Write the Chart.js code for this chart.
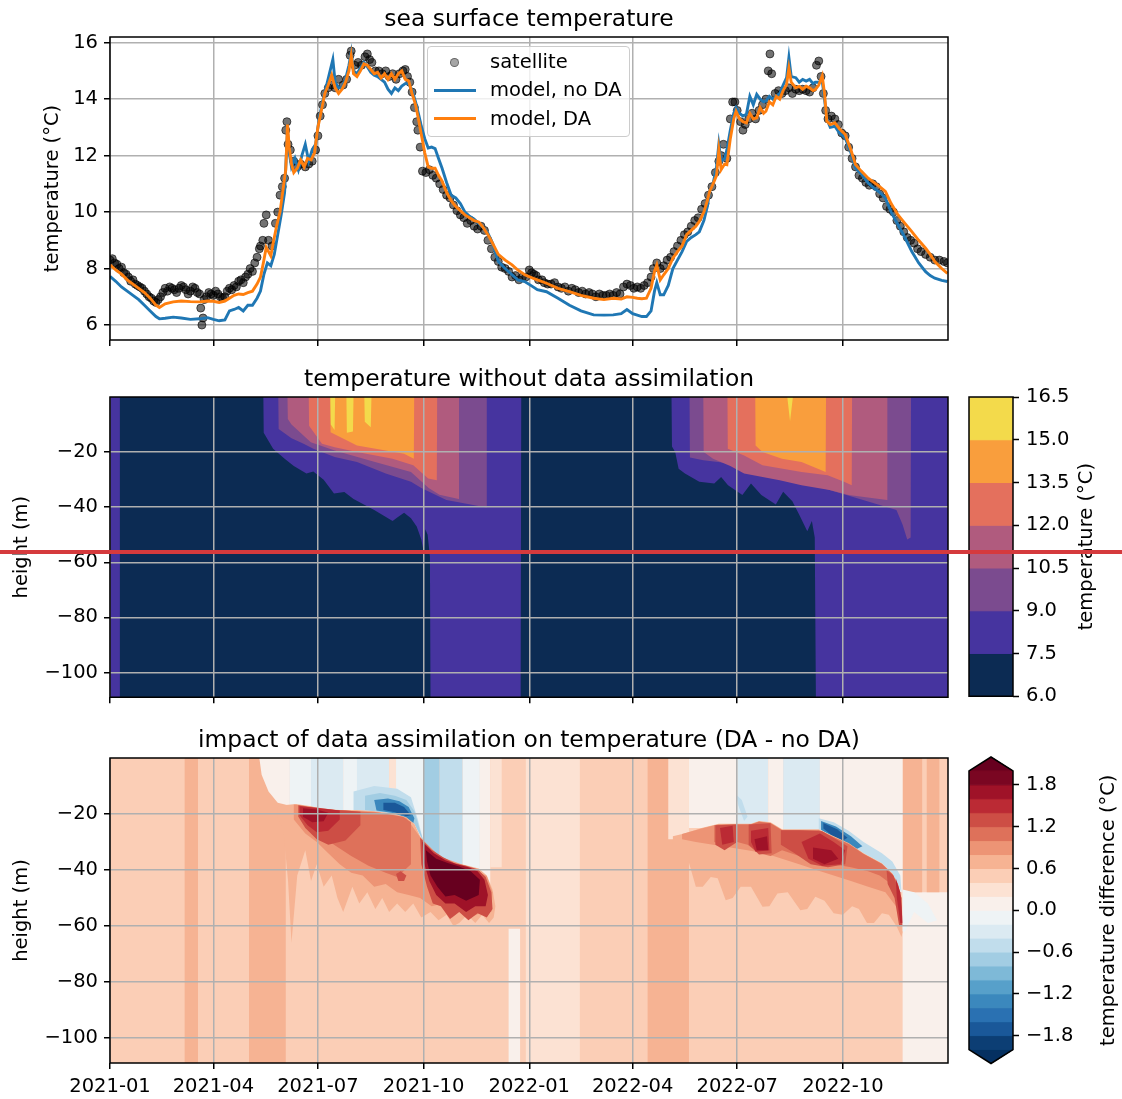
<!DOCTYPE html>
<html>
<head>
<meta charset="utf-8">
<script src="https://cdn.jsdelivr.net/npm/chart.js@4.4.1/dist/chart.umd.min.js"></script>
<style>
  body { margin: 0; background: #fff; width: 1122px; height: 1099px; position: relative; overflow: hidden; font-family: 'DejaVu Sans'; }
  canvas { position: absolute; }
  #legend { position: absolute; left: 427px; top: 46px; width: 203px; height: 91px; box-sizing: border-box;
    border: 1px solid #cccccc; border-radius: 4px; background: rgba(255,255,255,0.8); padding-top: 1px;
    font: 19.5px 'DejaVu Sans'; color: #000; }
  #legend .row { position: relative; height: 28.3px; line-height: 28.3px; }
  #legend .txt { position: absolute; left: 62px; top: 0; }
  #legend .line { position: absolute; left: 6px; width: 42px; height: 3px; top: 12.7px; }
  #legend .dot { position: absolute; left: 22px; top: 9.7px; width: 7px; height: 7px; border-radius: 50%; }
  #marker { position: absolute; left: 0; top: 550px; width: 1122px; height: 4px; background: #d53a3d; }
</style>
</head>
<body>
<canvas id="sst" width="1122" height="360" style="left:0;top:0"></canvas>
<canvas id="temp" width="1122" height="355" style="left:0;top:360px"></canvas>
<canvas id="tempBar" width="182" height="355" style="left:940px;top:360px"></canvas>
<canvas id="diff" width="1122" height="378" style="left:0;top:721px"></canvas>
<canvas id="diffBar" width="182" height="378" style="left:940px;top:721px"></canvas>
<div id="legend"></div>
<div id="marker"></div>
<script>
// -- DATA ---------------------------------------------------------------//
// time axis: days since 2021-01-01
const tickDays = [0, 90, 181, 273, 365, 455, 546, 638];
const tickLabels = ['2021-01', '2021-04', '2021-07', '2021-10', '2022-01', '2022-04', '2022-07', '2022-10'];
const dayMax = 729.5;

// sea surface temperature (°C) as [day, value]
const satellite = [
  [0,8.3],[2,8.35],[4,8.2],[6,8.15],[8,8.0],[10,8.05],[12,7.85],[14,7.8],[16,7.7],[18,7.55],[20,7.6],[22,7.45],[24,7.4],[26,7.35],
  [28,7.3],[30,7.2],[32,7.1],[34,7.0],[36,6.95],[38,6.85],[40,6.8],[42,6.9],[44,7.0],[46,7.15],[48,7.3],[50,7.2],[52,7.35],[54,7.3],
  [56,7.25],[58,7.15],[60,7.3],[62,7.4],[64,7.35],[66,7.25],[68,7.1],[70,7.2],[72,7.35],[74,7.3],[76,7.15],[78,7.1],[79,6.6],[80,6.0],
  [81,6.25],[82,6.9],[84,7.0],[86,7.15],[88,7.1],[90,7.05],[92,7.2],[94,7.1],[96,7.0],[98,6.95],[100,7.0],[102,7.2],[104,7.3],[106,7.25],
  [108,7.4],[110,7.35],[112,7.55],[114,7.6],[116,7.5],[118,7.7],[120,7.8],[122,8.0],[124,7.9],[126,8.2],[128,8.4],[130,8.7],[131,8.8],
  [133,9.0],[134,9.6],[136,9.9],[138,9.0],[141,8.8],[144,9.6],[146,10.0],[148,10.6],[150,10.9],[152,11.2],[153,12.9],[154,13.2],[155,12.4],
  [157,12.2],[160,11.8],[163,11.6],[166,11.7],[170,11.6],[173,11.7],[176,11.8],[179,12.2],[181,12.7],[183,13.4],[185,13.8],[187,14.2],
  [190,14.4],[193,14.5],[196,14.4],[199,14.7],[203,14.5],[206,14.7],[209,15.55],[210,15.7],[213,15.2],[216,15.3],[219,15.2],[222,15.5],
  [224,15.6],[226,15.4],[228,15.3],[231,15.0],[234,15.0],[237,14.9],[240,15.0],[243,14.8],[246,14.9],[249,14.7],[252,14.9],[255,15.0],
  [257,15.05],[259,14.8],[261,14.6],[263,14.25],[265,13.7],[267,13.2],[268,12.9],[270,12.3],[272,11.45],[275,11.4],[278,11.5],[281,11.3],
  [284,11.2],[287,11.0],[290,10.8],[293,10.6],[296,10.5],[299,10.25],[302,10.05],[305,9.9],[308,9.8],[311,9.6],[314,9.7],[317,9.5],
  [320,9.4],[323,9.5],[326,9.35],[329,9.0],[332,8.7],[335,8.4],[338,8.25],[341,8.05],[344,8.0],[347,7.9],[350,7.7],[353,7.75],[356,7.6],
  [359,7.7],[362,7.7],[365,7.95],[367,7.85],[369,7.8],[371,7.75],[373,7.6],[376,7.6],[378,7.5],[381,7.45],[384,7.45],[387,7.5],[390,7.35],
  [393,7.3],[396,7.35],[399,7.2],[402,7.3],[405,7.25],[408,7.15],[411,7.2],[414,7.1],[417,7.15],[420,7.1],[423,7.0],[426,7.1],[429,7.05],
  [432,7.05],[435,7.1],[438,7.05],[441,7.15],[444,7.1],[447,7.35],[450,7.45],[453,7.4],[456,7.3],[459,7.35],[462,7.3],[465,7.4],[468,7.5],
  [471,7.7],[473,8.0],[476,8.2],[479,8.0],[482,8.1],[485,8.3],[488,8.4],[491,8.6],[494,8.8],[497,9.0],[500,9.2],[503,9.3],[506,9.5],
  [509,9.7],[512,9.8],[515,10.1],[518,10.3],[521,10.6],[524,10.9],[527,11.4],[530,11.8],[532,12.0],[534,12.4],[537,11.9],[540,13.3],
  [542,13.9],[544,13.9],[546,13.6],[549,13.2],[551,12.9],[553,13.1],[556,13.3],[559,13.5],[562,13.3],[565,13.6],[568,13.8],[571,14.0],
  [573,15.0],[574.5,15.6],[576,14.9],[579,14.2],[582,14.3],[585,14.2],[588,14.3],[591,14.4],[594,14.2],[597,14.35],[600,14.3],[603,14.35],
  [606,14.3],[609,14.25],[612,14.4],[615,15.2],[617,15.35],[619,14.8],[621,14.2],[623,13.6],[625,13.3],[628,13.4],[631,13.3],[634,13.1],
  [637,12.8],[640,12.7],[643,12.3],[646,11.9],[649,11.6],[652,11.3],[655,11.2],[658,11.05],[661,10.95],[664,11.0],[667,10.9],[670,10.65],
  [673,10.5],[676,10.2],[679,10.1],[682,10.0],[685,9.7],[688,9.5],[691,9.3],[694,9.1],[697,9.0],[700,8.9],[703,8.7],[706,8.6],[710,8.5],
  [714,8.4],[718,8.3],[722,8.3],[726,8.25],[729,8.2]
];
const modelNoDA = [
  [0,7.72],[5,7.55],[10,7.35],[15,7.2],[20,7.05],[25,6.9],[30,6.7],[35,6.5],[40,6.3],[43,6.22],[48,6.24],[55,6.28],[62,6.25],[70,6.2],
  [78,6.22],[85,6.26],[90,6.2],[95,6.15],[100,6.18],[104,6.5],[108,6.55],[112,6.62],[116,6.5],[120,6.7],[124,6.7],[128,6.95],[131,7.2],
  [134,7.8],[137,8.2],[140,8.1],[143,8.5],[146,9.2],[149,9.9],[152,10.7],[154.5,12.9],[156,12.1],[158,11.6],[161,11.9],[164,11.5],
  [167,12.0],[170,12.4],[173,11.8],[176,12.2],[179,12.4],[182,13.3],[185,13.9],[188,14.4],[191,14.9],[194,15.4],[196,14.6],[199,14.4],
  [202,14.4],[205,14.7],[208,15.2],[210,15.65],[212,15.0],[215,14.9],[218,15.1],[221,15.3],[224,15.15],[227,14.95],[230,14.85],[233,14.8],
  [236,14.7],[239,14.6],[242,14.35],[245,14.2],[248,14.4],[251,14.3],[254,14.46],[257,14.55],[260,14.55],[263,14.3],[266,13.9],[269,13.4],
  [271,13.04],[274,12.6],[277,12.27],[280,12.3],[283,12.25],[286,11.9],[289,11.56],[293,11.05],[297,10.6],[301,10.5],[305,10.3],[309,10.0],
  [313,9.85],[317,9.75],[321,9.6],[325,9.45],[329,9.25],[333,8.9],[338,8.25],[344,8.0],[350,7.78],[355,7.6],[361,7.54],[368,7.36],
  [372,7.25],[380,7.18],[390,6.95],[400,6.7],[410,6.5],[421,6.36],[430,6.35],[438,6.36],[445,6.4],[450,6.55],[455,6.4],[459,6.35],
  [463,6.3],[467,6.3],[471,6.5],[474,7.2],[476,7.5],[479,7.07],[482,7.07],[486,7.4],[490,8.0],[494,8.3],[498,8.6],[502,8.96],[506,9.1],
  [510,9.2],[513,9.3],[517,9.7],[520,10.2],[522,10.73],[525,11.0],[528,11.6],[530,12.4],[532,11.8],[535,11.9],[537,12.2],[540,12.9],
  [543,13.5],[545,13.7],[548,13.5],[551,13.4],[554,13.46],[557,14.1],[560,13.8],[563,14.17],[566,14.0],[569,13.9],[571,13.93],[574,14.1],
  [577,14.0],[580,14.1],[583,14.2],[586,14.5],[589,14.76],[591,15.47],[593,14.8],[597,14.76],[600,14.6],[603,14.7],[606,14.64],[609,14.7],
  [612,14.55],[614,14.6],[617,14.6],[620,14.64],[622,14.0],[624,13.3],[627,13.0],[631,13.04],[635,12.8],[640,12.63],[645,12.1],[649,11.56],
  [654,11.35],[660,11.03],[665,10.85],[670,10.7],[675,10.5],[680,10.0],[686,9.55],[692,9.1],[698,8.6],[704,8.2],[710,7.89],[714,7.75],
  [718,7.66],[724,7.58],[729,7.54]
];
const modelDA = [
  [0,8.13],[5,7.95],[10,7.8],[15,7.6],[20,7.45],[25,7.3],[30,7.15],[35,6.95],[40,6.7],[43,6.62],[48,6.75],[55,6.82],[62,6.85],[70,6.83],
  [78,6.82],[85,6.85],[90,6.84],[95,6.8],[100,6.85],[104,6.95],[108,7.05],[112,7.1],[116,7.08],[120,7.15],[124,7.2],[128,7.45],[131,7.7],
  [134,8.3],[136,8.75],[138,8.6],[140,8.45],[142,8.9],[145,9.5],[148,10.0],[151,10.9],[153,11.5],[154.5,13.1],[156,12.3],[158,11.7],
  [160,11.4],[163,11.55],[166,11.85],[169,11.6],[172,11.9],[175,11.85],[178,12.1],[181,13.0],[184,13.6],[187,14.2],[190,14.5],[193,14.85],
  [196,14.4],[199,14.2],[202,14.35],[205,14.6],[208,15.0],[210,15.55],[212,14.9],[215,14.8],[218,15.0],[221,15.25],[224,15.2],[227,15.05],
  [230,14.9],[233,14.95],[236,14.75],[239,14.9],[242,14.7],[245,14.9],[248,14.7],[251,14.9],[254,15.0],[257,14.7],[260,14.65],[263,14.2],
  [266,13.8],[269,13.2],[271,12.75],[274,12.1],[277,11.6],[280,11.55],[283,11.55],[286,11.3],[289,11.1],[293,10.7],[297,10.4],[301,10.2],
  [305,10.05],[309,9.9],[313,9.8],[317,9.7],[321,9.65],[325,9.45],[329,9.2],[333,8.9],[338,8.5],[344,8.3],[350,8.13],[355,7.95],[361,7.78],
  [368,7.66],[372,7.6],[380,7.48],[390,7.3],[400,7.18],[410,7.05],[421,6.95],[430,6.9],[438,6.95],[445,6.92],[450,7.0],[455,6.98],
  [459,6.95],[463,6.93],[467,6.95],[471,7.3],[474,7.9],[476,8.13],[479,7.6],[482,7.78],[486,8.0],[490,8.37],[494,8.6],[498,8.8],[502,9.2],
  [506,9.35],[510,9.5],[513,9.67],[517,10.0],[520,10.4],[522,10.73],[525,11.0],[528,11.3],[530,12.2],[532,11.5],[535,11.7],[537,11.68],
  [540,12.6],[543,13.3],[545,13.57],[548,13.3],[551,13.2],[554,13.16],[557,13.5],[560,13.3],[563,13.34],[566,13.7],[569,13.5],[571,13.57],
  [574,13.9],[577,13.8],[580,14.1],[583,14.0],[586,14.3],[589,14.52],[591,15.1],[593,14.6],[597,14.4],[600,14.45],[603,14.35],[606,14.46],
  [609,14.4],[612,14.3],[614,14.34],[617,14.5],[620,14.82],[622,14.2],[624,13.22],[627,13.1],[631,13.16],[635,12.95],[640,12.75],[645,12.2],
  [649,11.68],[654,11.45],[660,11.2],[665,11.05],[670,10.9],[675,10.73],[680,10.3],[686,9.9],[692,9.6],[698,9.31],[704,9.0],[710,8.72],
  [714,8.5],[718,8.25],[724,8.0],[729,7.83]
];
const sstTicks = [6, 8, 10, 12, 14, 16];

// temperature without DA: depth (m) of each isotherm as [day, depth]
const depthTicks = [-100, -80, -60, -40, -20];
const tempLevels = [6.0, 7.5, 9.0, 10.5, 12.0, 13.5, 15.0, 16.5];
const tempColors = ['#0c2b53', '#46349f', '#7b4b8f', '#b05b7e', '#e4705d', '#f99e3d', '#f3da4b'];
const iso75 = [[0,-109],[8.4,-109],[8.6,0],[133.5,0],[133.8,-13],[142,-18.8],[152,-22.4],[160,-25],[171,-27.8],[177,-27],[186,-30],
  [195,-35],[204,-34.5],[212,-37],[221,-39],[230,-41],[238,-43],[246,-45],[251,-43.5],[256,-42],[262,-44],[267,-47],[271,-51.7],[273,-56],
  [274.5,-48],[276.5,-50],[278.5,-58],[279,-109],[357.5,-109],[358,0],[488.8,0],[489.2,-18],[492,-20],[495,-26],[500.5,-27.8],[513,-30.8],
  [526,-31.4],[532,-29],[538,-32],[550.5,-35.6],[558,-31.4],[567,-35.6],[579.6,-39],[586,-34.4],[594,-37.8],[600,-42.7],[607,-48.7],
  [611,-45],[613.5,-51],[614.5,-109],[729.5,-109]];
const iso90 = [[0,0],[146.5,0],[146.8,-11.6],[158,-15],[168.5,-17],[177,-18.8],[195.6,-21.8],[215,-23.6],[240,-27.8],[262,-30.8],
  [271,-33],[292.8,-37.4],[308,-38.6],[327.5,-40.1],[328,0],[504.5,0],[504.8,-22],[516.5,-23],[533,-23.8],[552,-24.8],[587,-29.6],
  [616.7,-32.6],[641,-35.6],[665,-38.6],[684.6,-41],[690,-46.4],[694,-51.7],[697,-51],[697.3,0],[729.5,0]];
const iso105 = [[0,0],[154.5,0],[154.8,-8],[158,-10],[174.8,-16.4],[195.6,-19.4],[230.7,-23.6],[262,-27.2],[277.4,-33],[286.8,-35.5],
  [303.5,-37],[303.8,0],[516.5,0],[516.8,-20],[525,-22.4],[540,-25],[552,-27.8],[583,-30.2],[602,-32],[626.4,-33.8],[643,-35.6],
  [676.4,-37.4],[676.7,0],[729.5,0]];
const iso120 = [[0,0],[173,0],[173.3,-10.4],[184.5,-17],[195.6,-18.2],[215,-20],[246,-22.4],[264,-24.8],[277,-29.6],[284.5,-30.2],
  [284.8,0],[537.5,0],[537.8,-18.8],[552,-21.2],[568,-24.8],[602,-27.2],[624.7,-28.4],[639,-30.8],[645.7,-32],[646,0],[729.5,0]];
const iso135 = [[0,0],[191.8,0],[192,-12.8],[215,-17.6],[240,-19.4],[256,-20.6],[264.5,-22.4],[264.8,0],[561.7,0],[562,-17.6],
  [568,-20],[585,-22.4],[602,-23.6],[623,-27.2],[623.3,0],[729.5,0]];
const iso150 = [[0,0],[191.8,0],[192.2,-10],[195.5,-12],[196,0],[205.8,0],[206.2,-13],[211.5,-12.5],[212,0],[221.4,0],[221.8,-9],
  [227,-11],[227.6,0],[589.6,0],[592,-8.8],[594.5,0],[729.5,0]];

// impact of DA (°C)
const diffLevels = [-2.0,-1.8,-1.6,-1.4,-1.2,-1.0,-0.8,-0.6,-0.4,-0.2,0.0,0.2,0.4,0.6,0.8,1.0,1.2,1.4,1.6,1.8,2.0];
const diffTicks = [-1.8, -1.2, -0.6, 0.0, 0.6, 1.2, 1.8];
const rdbuStops = ['#053061','#2166ac','#4393c3','#92c5de','#d1e5f0','#f7f7f7','#fddbc7','#f4a582','#d6604d','#b2182b','#67001f'];
// full-depth columns [start, end, value]
const diffColumns = [[0,729.5,0.5],[65,76.6,0.7],[121,153,0.7],[362,409,0.3],[468,504,0.7]];
// partial columns [start, end, top, bottom, value]
const diffPatches = [
  [347,357,-61,-109,0.1],
  [690,729.5,-48,-109,0.1],[690,707,0,-48,0.7],[711,722,0,-48,0.7],
  [156,175,0,-17.5,-0.1],[175,203,0,-19,-0.3],[203,215,0,-19,-0.1],[215,243,0,-20,-0.3],[243,249,0,-21,0.3],
  [249,273,0,-30,-0.1],[273,287,0,-34.5,-0.7],[287,307,0,-38,-0.5],[307,322,0,-46,-0.1],[322,331,0,-46,0.1],[331,341,0,-39,0.3],
  [486,504,0,-29,0.3],[504,546,0,-25,0.1],[546,573,0,-24,-0.3],[573,586,0,-26,0.1],
  [586,618,0,-26,-0.3],[618,690,0,-48,0.1]
];
// contour rings [day, depth]
const wedge21 = [[130,0],[156,0],[156,-17],[146,-16],[138,-12],[132,-6]];
const cold21a = [[212,-12],[230,-10],[250,-11],[262,-14],[268,-22],[273,-30],[265,-23.6],[246,-19.8],[230,-19],[212,-18.6]];
const cold21b = [[222,-13.5],[235,-12.5],[248,-13.5],[258,-15],[265,-19],[270,-26],[273,-30],[271,-28.2],[265,-23.6],[258,-21.2],[246,-19.8],[230,-19],[222,-18.6]];
const cold21c = [[230,-15],[242,-14.5],[252,-15.5],[260,-17.5],[265,-21.5],[264,-23.2],[256,-21],[245,-19.6],[232,-18.8]];
const cold21d = [[238,-16],[248,-16],[256,-17.5],[262,-20.5],[258,-20.8],[248,-19.4],[238,-18.6]];
const warm21a = [[146,-17.5],[153,-16.8],[162,-16.4],[175,-17.2],[185,-18.2],[200,-18.6],[215,-18.6],[230,-19],[246,-19.8],[258,-21.2],
  [265,-23.6],[270,-28],[277,-31.6],[287,-35],[299,-37.5],[309,-38.2],[321,-39.5],[328,-42],[333,-47],[335.5,-53],[334,-57],[330,-59],
  [324,-56],[318,-59],[311,-56],[304,-59],[299,-60],[293,-56],[286,-58],[279,-55],[271,-57],[264,-52],[257,-55],[250,-52],[243,-55],
  [237,-50],[231,-54],[224,-48],[217,-52],[211,-46],[203,-55],[198,-50],[193,-42],[186,-46],[180,-38],[175,-44],[170,-33],[163,-42],
  [158,-66],[155,-44],[151,-26],[146,-21]];
const warm21b = [[160,-16.6],[175,-17.4],[200,-18.8],[230,-19.2],[258,-21.4],[270,-28.3],[287,-35.2],[309,-38.4],[328,-42.2],[333,-48],
  [332,-55],[324,-55],[314,-57],[306,-54],[298,-57],[290,-52],[280,-53],[270,-50],[260,-49],[250,-48],[240,-45],[230,-46],[220,-42],
  [210,-41],[200,-38],[190,-34],[180,-30],[170,-27],[160,-22]];
const warm21c = [[164,-16.8],[185,-18.3],[210,-18.9],[235,-19.6],[255,-21],[262,-23],[262,-38],[250,-42.5],[240,-41],[225,-38.5],
  [210,-35],[195,-31],[180,-26],[170,-23],[164,-21]];
const warm21d = [[164,-17],[185,-18.4],[205,-18.8],[218,-19.2],[218,-24],[205,-29.5],[190,-31],[180,-29],[170,-25],[164,-21]];
const warm21e = [[249,-41.5],[253,-40.5],[258,-42],[256,-44],[251,-44]];
const warm21f = [[165,-17.2],[180,-17.8],[200,-18.8],[200,-22],[190,-26],[180,-26.5],[172,-24],[165,-20.5]];
const warm21g = [[168,-18],[180,-18.4],[190,-19.6],[186,-22.6],[176,-23],[168,-21]];
const blob21a = [[270,-28.5],[280,-32.8],[290,-35.5],[300,-37.6],[310,-38.5],[320,-39.8],[327,-42.5],[332,-48],[333,-54],[328,-57],
  [320,-55.5],[312,-58],[304,-55],[296,-57.5],[288,-53],[281,-52],[276,-46],[271,-38]];
const blob21b = [[272,-30],[282,-34],[292,-36.5],[302,-38],[312,-39],[320,-40.5],[326,-43.5],[329,-49],[327,-53],[318,-53],[310,-55],
  [300,-52],[292,-52],[284,-49],[278,-44],[273,-37]];
const blob21c = [[275,-33],[284,-36],[294,-37.5],[304,-38.8],[314,-40.5],[322,-43.5],[321,-49],[310,-51],[300,-49],[292,-49.5],
  [285,-46],[279,-42],[276,-37]];
const cold22a = [[545,-13],[550,-15],[555,-21],[552,-22.5],[547,-17]];
const cold22b = [[617,-21.5],[630,-23],[643,-26],[656,-30],[672,-34],[681,-37],[688,-42],[689,-48],[681,-41.2],[672,-37.6],[656,-34],
  [643,-30.4],[630,-28],[617,-25.5]];
const cold22c = [[619,-22.5],[632,-24.5],[645,-28],[655,-31.5],[650,-32.5],[640,-30],[628,-27.8],[619,-25.6]];
const cold22d = [[621,-23.2],[633,-25.5],[642,-28.5],[638,-29.5],[628,-27.5],[621,-25.2]];
const warm22a = [[490,-28],[500,-27],[515,-25],[530,-23.5],[545,-23.5],[558,-23.5],[565,-22.5],[575,-23],[585,-25.5],[600,-25.5],
  [617,-25.5],[630,-28],[643,-30.4],[656,-34],[672,-37.6],[681,-41.2],[686,-45],[689,-50],[690,-62],[689,-64],[685,-60.3],[678,-56],
  [672,-55.5],[665,-59],[659,-59],[652,-54],[646,-53],[638,-56],[630,-55.5],[622,-51],[614,-49.6],[607,-54],[601,-54.4],[590,-48],
  [581,-48.4],[574,-53],[568,-53.2],[558,-46],[549,-46],[542,-50],[536,-50.8],[529,-43],[523,-42.5],[516,-46],[510,-46],[503,-36],
  [497,-34],[490,-31]];
const warm22b = [[498,-27.2],[515,-25.2],[530,-23.7],[545,-23.7],[558,-23.7],[565,-22.7],[575,-23.2],[585,-25.7],[600,-25.7],[617,-25.7],
  [630,-28.2],[643,-30.6],[656,-34.2],[672,-37.8],[681,-41.4],[686,-45.2],[689,-50],[688,-55],[675,-48],[660,-46],[645,-44],[630,-42],
  [615,-40],[600,-38],[585,-36],[570,-34],[555,-33],[540,-32],[525,-31],[510,-30],[498,-29]];
const warm22c = [[526,-24],[545,-23.8],[558,-23.8],[565,-22.8],[575,-23.3],[585,-25.8],[600,-25.8],[617,-25.8],[630,-28.3],[643,-30.7],
  [656,-34.3],[672,-37.9],[681,-41.5],[686,-45.3],[688,-50],[680,-45],[670,-42],[660,-40.5],[645,-39],[630,-38],[615,-36],[600,-35],
  [585,-33],[575,-35],[565,-34],[555,-31],[546,-30],[535,-31.5],[526,-30]];
const warm22d = [[527,-24],[545,-23.8],[546,-30],[535,-33],[527,-31]];
const warm22e = [[556,-23.8],[575,-23.3],[576,-34],[565,-34.5],[556,-31]];
const warm22f = [[584,-25.8],[600,-25.8],[620,-26.2],[632,-29],[642,-31.5],[640,-38],[625,-39],[610,-38],[596,-34],[584,-31]];
const warm22g = [[676,-40],[682,-42],[689,-50],[690,-60],[687,-60],[683,-50],[677,-45]];
const warm22h = [[531,-25],[542,-24.2],[543,-30],[533,-31]];
const warm22i = [[558,-26],[573,-25],[574,-33],[562,-33.5],[558,-30]];
const warm22j = [[602,-30],[618,-27],[630,-30],[640,-33],[636,-38],[620,-38.5],[608,-36]];
const warm22k = [[684,-43],[688,-48],[690,-59],[688,-59],[685,-50]];
const warm22l = [[561,-29],[572,-28],[573,-33],[563,-33]];
const warm22m = [[612,-32],[628,-33],[634,-36],[622,-38],[612,-36]];
const wisp22 = [[690,-47],[700,-48],[712,-52],[720,-58],[712,-59],[700,-55],[692,-62],[690,-62]];
// drawing order, with the value each ring stands for
const diffRings = [
  [wedge21, 0.1], [cold21a, -0.5], [cold21b, -0.7], [cold21c, -1.3], [cold21d, -1.7],
  [warm21a, 0.7], [warm21b, 0.9], [warm21c, 1.1], [warm21d, 1.3], [warm21e, 1.3], [warm21f, 1.5], [warm21g, 1.7],
  [blob21a, 1.3], [blob21b, 1.7], [blob21c, 2.1],
  [cold22a, -0.5], [cold22b, -0.5], [cold22c, -1.3], [cold22d, -1.7],
  [warm22a, 0.7], [warm22b, 0.9], [warm22c, 1.1], [warm22d, 1.3], [warm22e, 1.3], [warm22f, 1.3], [warm22g, 1.3],
  [warm22h, 1.5], [warm22i, 1.5], [warm22j, 1.5], [warm22k, 1.5], [warm22l, 1.7], [warm22m, 1.7], [wisp22, -0.1]
];
const depthMin = -109, depthMax = 0;

// -- HELPERS ------------------------------------------------------------//
Chart.defaults.font.family = "'DejaVu Sans'";
Chart.defaults.font.size = 19.5;
Chart.defaults.color = '#000';

const pts = arr => arr.map(([x, y]) => ({x, y}));
const minus = (v, digits) => (v < 0 ? '\u2212' : '') + (digits == null ? String(Math.abs(v)) : Math.abs(v).toFixed(digits));

function hexToRgb(h) { return [1, 3, 5].map(i => parseInt(h.slice(i, i + 2), 16)); }
function rdbu(f) {
	f = Math.min(1, Math.max(0, f));
	const p = f * (rdbuStops.length - 1);
	const i = Math.min(Math.floor(p), rdbuStops.length - 2);
	const t = p - i;
	const a = hexToRgb(rdbuStops[i]), b = hexToRgb(rdbuStops[i + 1]);
	return 'rgb(' + a.map((c, k) => Math.round(c + (b[k] - c) * t)).join(',') + ')';
}
function diffColor(v) {
	const lo = diffLevels[0], hi = diffLevels[diffLevels.length - 1];
	if (v >= hi) return rdbu(1);
	if (v < lo) return rdbu(0);
	let k = 0;
	while (diffLevels[k + 1] <= v + 1e-9) k++;
	return rdbu(((diffLevels[k] + diffLevels[k + 1]) / 2 - lo) / (hi - lo));
}
function shape(ring, color, stroke) {
	return { data: pts(ring), fill: 'shape', backgroundColor: color, borderColor: color,
		borderWidth: stroke ? 1 : 0, pointRadius: 0, tension: 0 };
}
function withOrder(list) { return list.map((ds, i) => Object.assign(ds, { order: list.length - i })); }

// -- PLUGINS ------------------------------------------------------------//
const axesTitle = text => ({
	id: 'axesTitle',
	afterDraw(chart) {
		const {ctx, chartArea: a} = chart;
		ctx.save();
		ctx.font = "23.4px 'DejaVu Sans'";
		ctx.fillStyle = '#000';
		ctx.textAlign = 'center';
		ctx.textBaseline = 'alphabetic';
		ctx.fillText(text, (a.left + a.right) / 2, a.top - 11.5);
		ctx.restore();
	}
});
const outline = poly => ({
	id: 'outline',
	afterDraw(chart) {
		const {ctx, chartArea: a, scales} = chart;
		ctx.save();
		ctx.strokeStyle = '#000';
		ctx.lineWidth = 1.5;
		ctx.beginPath();
		if (poly) {
			poly.forEach(([x, y], i) => {
				const px = scales.x.getPixelForValue(x), py = scales.y.getPixelForValue(y);
				if (i) ctx.lineTo(px, py); else ctx.moveTo(px, py);
			});
			ctx.closePath();
		} else {
			ctx.rect(a.left, a.top, a.right - a.left, a.bottom - a.top);
		}
		ctx.stroke();
		ctx.restore();
	}
});
const plotBackground = color => ({
	id: 'plotBackground',
	beforeDatasetsDraw(chart) {
		const {ctx, chartArea: a} = chart;
		ctx.save();
		ctx.fillStyle = color;
		ctx.fillRect(a.left, a.top, a.right - a.left, a.bottom - a.top);
		ctx.restore();
	}
});
const barLabel = (text, x) => ({
	id: 'barLabel',
	afterDraw(chart) {
		const {ctx, chartArea: a} = chart;
		ctx.save();
		ctx.font = "19.5px 'DejaVu Sans'";
		ctx.fillStyle = '#000';
		ctx.textAlign = 'center';
		ctx.textBaseline = 'middle';
		ctx.translate(x, (a.top + a.bottom) / 2);
		ctx.rotate(-Math.PI / 2);
		ctx.fillText(text, 0, 0);
		ctx.restore();
	}
});

const gridStyle = { color: '#b0b0b0', lineWidth: 1.5, tickColor: '#000', tickWidth: 1.5, tickLength: 6 };

function panelScales(o) {
	return {
		x: {
			type: 'linear', min: 0, max: dayMax, z: o.z,
			afterBuildTicks: s => { s.ticks = tickDays.map(v => ({value: v})); },
			afterFit: s => { s.height = o.xHeight; },
			grid: Object.assign({z: o.z}, gridStyle),
			border: {display: false},
			ticks: {display: o.xLabels, autoSkip: false, maxRotation: 0, padding: 6, callback: (v, i) => tickLabels[i]}
		},
		y: {
			type: 'linear', min: o.yMin, max: o.yMax, z: o.z,
			afterBuildTicks: s => { s.ticks = o.yTicks.map(v => ({value: v})); },
			afterFit: s => { s.width = 110; },
			grid: Object.assign({z: o.z}, gridStyle),
			border: {display: false},
			ticks: {padding: 6, callback: v => minus(v)},
			title: {display: true, text: o.yTitle, padding: {top: o.titlePad, bottom: 0}}
		}
	};
}
const common = {
	responsive: false,
	animation: false,
	events: [],
	elements: {point: {radius: 0}, line: {tension: 0}},
	plugins: {legend: {display: false}, tooltip: {enabled: false}}
};

// -- SEA SURFACE TEMPERATURE ---------------------------------------------//
const sstChart = new Chart(document.getElementById('sst'), {
	type: 'line',
	data: {
		datasets: [
			{ label: 'satellite', data: pts(satellite), showLine: false, pointRadius: 4,
				pointBackgroundColor: 'rgba(0,0,0,0.55)', pointBorderColor: 'rgba(0,0,0,0.6)', pointBorderWidth: 1, order: 3 },
			{ label: 'model, no DA', data: pts(modelNoDA), borderColor: '#1f77b4', borderWidth: 2.9, fill: false, order: 2 },
			{ label: 'model, DA', data: pts(modelDA), borderColor: '#ff7f0e', borderWidth: 2.9, fill: false, order: 1 }
		]
	},
	options: Object.assign({}, common, {
		layout: {padding: {top: 37, right: 174, left: 0, bottom: 0}},
		scales: panelScales({z: 0, xHeight: 20, xLabels: false, yMin: 5.47, yMax: 16.2, yTicks: sstTicks,
			yTitle: 'temperature (\u00b0C)', titlePad: 41})
	}),
	plugins: [axesTitle('sea surface temperature'), outline()]
});

// legend from the datasets
const legendEl = document.getElementById('legend');
sstChart.data.datasets.forEach(ds => {
	const row = document.createElement('div');
	row.className = 'row';
	const key = document.createElement('span');
	if (ds.showLine === false) {
		key.className = 'dot';
		key.style.background = 'rgba(0,0,0,0.35)';
		key.style.border = '1px solid rgba(0,0,0,0.4)';
	} else {
		key.className = 'line';
		key.style.background = ds.borderColor;
	}
	const txt = document.createElement('span');
	txt.className = 'txt';
	txt.textContent = ds.label;
	row.append(key, txt);
	legendEl.append(row);
});

// -- TEMPERATURE WITHOUT DA ---------------------------------------------//
const isotherms = [iso75, iso90, iso105, iso120, iso135, iso150];
new Chart(document.getElementById('temp'), {
	type: 'line',
	data: {
		datasets: withOrder(isotherms.map((iso, i) => ({
			data: pts(iso), fill: 'end', backgroundColor: tempColors[i + 1], borderWidth: 0, pointRadius: 0
		})))
	},
	options: Object.assign({}, common, {
		layout: {padding: {top: 37, right: 174, left: 0, bottom: 0}},
		scales: panelScales({z: 1, xHeight: 13, xLabels: false, yMin: depthMin, yMax: depthMax, yTicks: depthTicks,
			yTitle: 'height (m)', titlePad: 10.6})
	}),
	plugins: [plotBackground(tempColors[0]), axesTitle('temperature without data assimilation'), outline()]
});

// -- IMPACT OF DA -------------------------------------------------------//
const diffSets = [];
diffColumns.forEach(([s, e, v]) => diffSets.push(shape([[s, depthMax], [e, depthMax], [e, depthMin], [s, depthMin]], diffColor(v))));
diffPatches.forEach(([s, e, t, b, v]) => diffSets.push(shape([[s, t], [e, t], [e, b], [s, b]], diffColor(v))));
diffRings.forEach(([ring, v]) => diffSets.push(shape(ring, diffColor(v))));
new Chart(document.getElementById('diff'), {
	type: 'line',
	data: {datasets: withOrder(diffSets)},
	options: Object.assign({}, common, {
		layout: {padding: {top: 37, right: 174, left: 0, bottom: 0}},
		scales: panelScales({z: 1, xHeight: 36, xLabels: true, yMin: depthMin, yMax: depthMax, yTicks: depthTicks,
			yTitle: 'height (m)', titlePad: 10.6})
	}),
	plugins: [axesTitle('impact of data assimilation on temperature (DA - no DA)'), outline()]
});

// -- COLORBARS ----------------------------------------------------------//
function colorbar(id, o) {
	return new Chart(document.getElementById(id), {
		type: 'line',
		data: {datasets: withOrder(o.datasets)},
		options: Object.assign({}, common, {
			layout: {padding: o.padding},
			scales: {
				x: {type: 'linear', min: 0, max: 1, display: false},
				y: {
					type: 'linear', position: 'right', min: o.min, max: o.max,
					afterBuildTicks: s => { s.ticks = o.ticks.map(v => ({value: v})); },
					afterFit: s => { s.width = 109; },
					grid: {drawOnChartArea: false, tickColor: '#000', tickWidth: 1.5, tickLength: 6},
					border: {display: false},
					ticks: {padding: 7, callback: v => minus(v, 1)}
				}
			}
		}),
		plugins: [barLabel(o.label, o.labelX), outline(o.outline)]
	});
}

const tempBands = tempColors.map((c, i) => shape([[0, tempLevels[i]], [1, tempLevels[i]], [1, tempLevels[i + 1]], [0, tempLevels[i + 1]]], c, true));
colorbar('tempBar', {
	datasets: tempBands, min: tempLevels[0], max: tempLevels[tempLevels.length - 1], ticks: tempLevels,
	padding: {top: 37, bottom: 13, left: 29, right: 0}, label: 'temperature (\u00b0C)', labelX: 147
});

const dLo = diffLevels[0], dHi = diffLevels[diffLevels.length - 1], ext = 0.2;
const diffBands = [];
diffBands.push(shape([[0, dLo], [1, dLo], [0.5, dLo - ext]], diffColor(dLo - 1), true));
diffBands.push(shape([[0, dHi], [1, dHi], [0.5, dHi + ext]], diffColor(dHi), true));
for (let i = 0; i < diffLevels.length - 1; i++) {
	const lo = diffLevels[i], hi = diffLevels[i + 1];
	diffBands.push(shape([[0, lo], [1, lo], [1, hi], [0, hi]], diffColor((lo + hi) / 2), true));
}
colorbar('diffBar', {
	datasets: diffBands, min: dLo - ext, max: dHi + ext, ticks: diffTicks,
	padding: {top: 36, bottom: 35.5, left: 29, right: 0}, label: 'temperature difference (\u00b0C)', labelX: 169,
	outline: [[0, dLo], [0, dHi], [0.5, dHi + ext], [1, dHi], [1, dLo], [0.5, dLo - ext]]
});
</script>
</body>
</html>
